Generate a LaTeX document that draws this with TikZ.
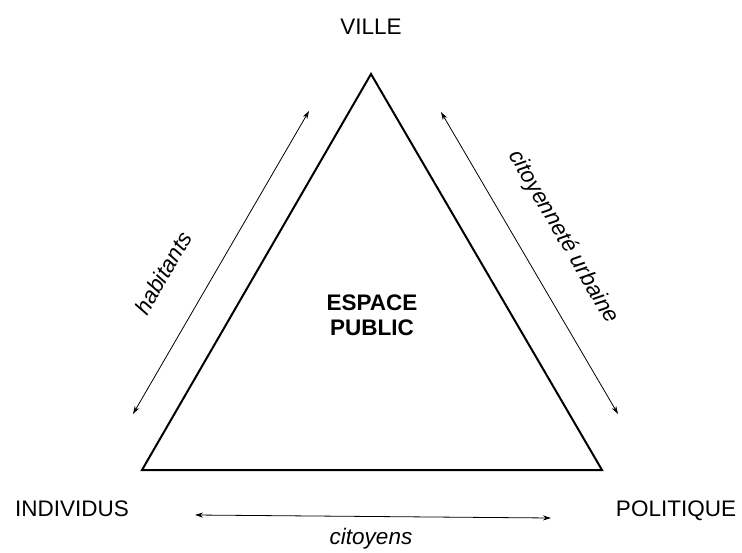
\documentclass[tikz,border=0pt]{standalone}
\usepackage{fontspec}
\setmainfont{Liberation Sans}
\usetikzlibrary{arrows.meta}
\begin{document}
\begin{tikzpicture}[x=1pt,y=-1pt,
  lbl/.style={font=\fontsize{22.5}{27}\selectfont, inner sep=0pt, anchor=base},
  side/.style={font=\fontsize{22.5}{27}\selectfont\itshape, inner sep=0pt},
  link/.style={line width=0.8pt, {Stealth[length=8pt,width=5pt]}-{Stealth[length=8pt,width=5pt]}},
  edge/.style={line width=2pt, line join=miter}]
  \useasboundingbox (0,0) rectangle (742,552);

  % triangle corners
  \coordinate (top) at (371,74);
  \coordinate (bl) at (142,470);
  \coordinate (br) at (602,470);
  \draw[edge] (top) -- (br) -- (bl) -- cycle;

  % corner labels
  \node[lbl] (ville) at (371,34) {VILLE};
  \node[lbl] (indiv) at (72,516) {INDIVIDUS};
  \node[lbl] (polit) at (676,516) {POLITIQUE};

  % centre label
  \node[lbl, font=\fontsize{22.5}{25}\selectfont\bfseries] (esp1) at (372,310) {ESPACE};
  \node[lbl, font=\fontsize{22.5}{25}\selectfont\bfseries] (esp2) at (372,335) {PUBLIC};

  % arrows along the sides
  \coordinate (la) at (133,414);
  \coordinate (lb) at (309,111);
  \coordinate (ra) at (441,112);
  \coordinate (rb) at (618,414);
  \coordinate (ba) at (195,515);
  \coordinate (bb) at (551,518);
  \draw[link] (la) -- (lb);
  \draw[link] (ra) -- (rb);
  \draw[link] (ba) -- (bb);

  % side labels
  \node[side, rotate=60] (hab) at (163,273) {habitants};
  \node[side, rotate=-59.7] (cit) at (563,237) {citoyenneté urbaine};
  \node[lbl, font=\fontsize{22.5}{27}\selectfont\itshape] (citoy) at (371,544) {citoyens};
\end{tikzpicture}
\end{document}
